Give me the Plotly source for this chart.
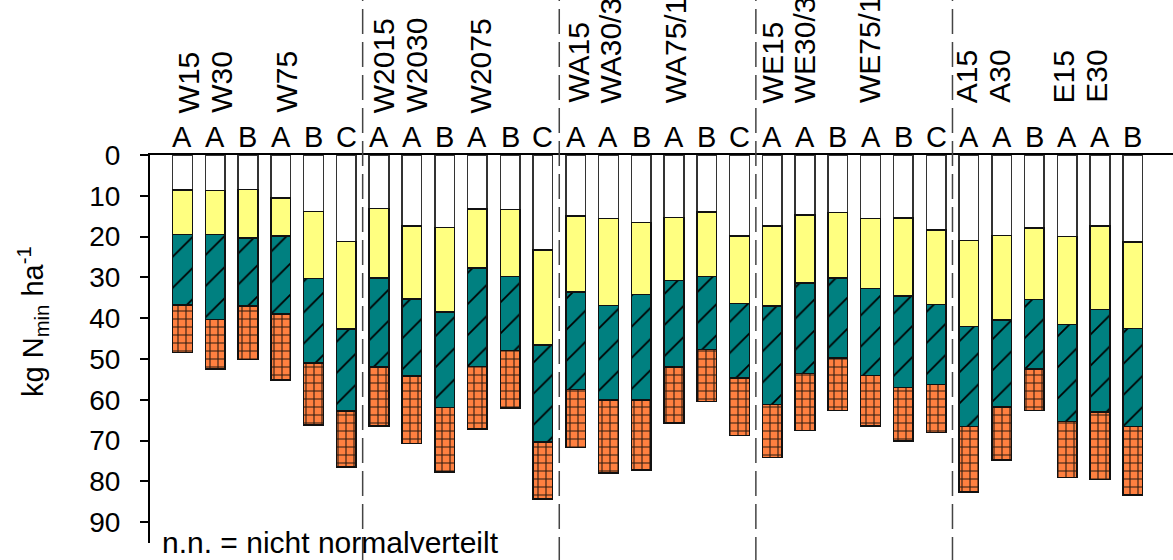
import plotly.graph_objects as go

# ---- data (kg N_min ha^-1 per layer, stacked downward from 0) ----
bars = list(range(30))
white = [8.6, 8.7, 8.5, 10.5, 13.9, 21.2,
         13.1, 17.4, 17.8, 13.2, 13.3, 23.3,
         14.9, 15.6, 16.6, 15.3, 14.0, 19.8,
         17.4, 14.7, 14.1, 15.6, 15.4, 18.4,
         20.9, 19.7, 17.9, 20.0, 17.4, 21.3]
yellow = [10.9, 10.8, 11.8, 9.3, 16.4, 21.4,
          17.0, 17.9, 20.7, 14.5, 16.5, 23.3,
          18.7, 21.3, 17.6, 15.5, 15.8, 16.6,
          19.6, 16.7, 16.1, 17.1, 19.2, 18.3,
          21.1, 20.7, 17.5, 21.5, 20.5, 21.2]
teal = [17.3, 20.8, 16.7, 19.2, 20.7, 20.1,
        21.9, 18.9, 23.4, 24.1, 18.1, 23.8,
        23.9, 23.2, 25.9, 21.1, 17.9, 18.3,
        24.1, 22.1, 19.5, 21.4, 22.4, 19.6,
        24.6, 21.4, 17.0, 23.8, 25.1, 24.0]
orange = [11.6, 12.1, 13.1, 16.2, 15.2, 13.8,
          14.4, 16.5, 15.8, 15.4, 14.1, 13.9,
          14.2, 17.9, 17.1, 13.8, 12.7, 14.1,
          13.0, 14.0, 12.9, 12.3, 13.1, 11.7,
          16.0, 12.9, 10.2, 13.7, 16.5, 16.8]

letters = ["A", "A", "B", "A", "B", "C",
           "A", "A", "B", "A", "B", "C",
           "A", "A", "B", "A", "B", "C",
           "A", "A", "B", "A", "B", "C",
           "A", "A", "B", "A", "A", "B"]
treatments = ["W15", "W30", "", "W75", "", "",
              "W2015", "W2030", "", "W2075", "", "",
              "WA15", "WA30/30", "", "WA75/15", "", "",
              "WE15", "WE30/30", "", "WE75/15", "", "",
              "A15", "A30", "", "E15", "E30", ""]
group_sizes = [6, 6, 6, 6, 6]
y_ticks = [0, 10, 20, 30, 40, 50, 60, 70, 80, 90]

FONT = "Liberation Sans, Arial, sans-serif"
LINE = dict(color="#111111", width=1.5)

fig = go.Figure()
fig.add_bar(x=bars, y=white, marker=dict(color="white", line=dict(color="#333333", width=1.5)),
            width=0.6)
fig.add_bar(x=bars, y=yellow, marker=dict(color="#FFFF80", line=LINE), width=0.6)
fig.add_bar(x=bars, y=teal, width=0.6,
            marker=dict(color="#008080", line=LINE,
                        pattern=dict(shape="/", size=22, solidity=0.08,
                                     fgcolor="#000000", bgcolor="#008080",
                                     fillmode="replace")))
fig.add_bar(x=bars, y=orange, width=0.6,
            marker=dict(color="#FF8040", line=LINE,
                        pattern=dict(shape="+", size=8, solidity=0.25,
                                     fgcolor="#2a1a10", bgcolor="#FF8040",
                                     fillmode="replace")))

# plot geometry
T, B = 155, 17
H = 560 - T - B

def py(px):
    return (560 - B - px) / H

# group separators
pos = -0.5
shapes = []
for g in group_sizes[:-1]:
    pos += g
    shapes.append(dict(type="line", xref="x", yref="paper", x0=pos, x1=pos,
                       y0=py(562), y1=py(-2),
                       line=dict(color="#444444", width=1.5, dash="25px,8px")))

ann = []
for i, (l, t) in enumerate(zip(letters, treatments)):
    ann.append(dict(x=i, y=py(155), xref="x", yref="paper", text=l, showarrow=False,
                    yanchor="bottom", xanchor="center",
                    font=dict(size=29, color="black", family=FONT)))
    if t:
        base = 115 if i < 12 else 105
        ann.append(dict(x=i, y=py(base), xref="x", yref="paper", text=t, showarrow=False,
                        textangle=-90, yanchor="bottom", xanchor="center",
                        xshift=7 - 11 * i / 29,
                        font=dict(size=30, color="black", family=FONT)))

ann.append(dict(x=(33 - 150) / 1023, y=py(322), xref="paper", yref="paper",
                text="kg N<sub>min</sub> ha<sup>-1</sup>", textangle=-90,
                showarrow=False, xanchor="center", yanchor="middle",
                font=dict(size=29, color="black", family=FONT)))
ann.append(dict(x=(160 - 150) / 1023, y=py(561), xref="paper", yref="paper",
                text="n.n. = nicht normalverteilt", showarrow=False,
                xanchor="left", yanchor="bottom",
                font=dict(size=30, color="black", family=FONT)))

fig.update_layout(
    barmode="stack",
    width=1173, height=560,
    margin=dict(l=150, r=0, t=T, b=B),
    paper_bgcolor="white", plot_bgcolor="white",
    showlegend=False,
    font=dict(family=FONT, color="black"),
    shapes=shapes,
    annotations=ann,
    xaxis=dict(range=[-0.99, 30.23], showticklabels=False, ticks="", showgrid=False,
               zeroline=False, showline=True, linecolor="black", linewidth=2,
               side="top", fixedrange=True),
    yaxis=dict(range=[95.1, 0], tickvals=y_ticks, ticks="outside", ticklen=8,
               tickwidth=2, tickcolor="black", showline=True, linecolor="black",
               linewidth=2, showgrid=False, zeroline=False,
               tickfont=dict(size=28, color="black", family=FONT),
               ticklabelstandoff=14),
)

fig.write_html("out.html")
